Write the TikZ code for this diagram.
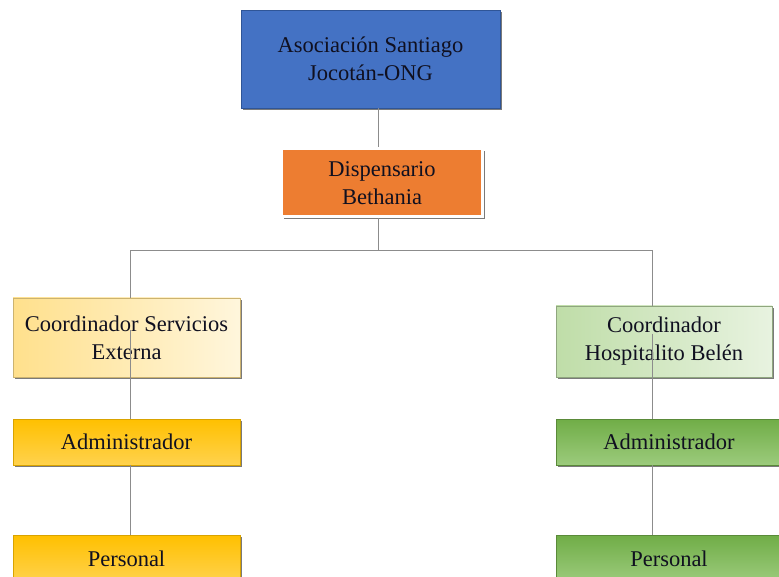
\documentclass[tikz,border=0pt]{standalone}
\usepackage{fontspec}
\setmainfont{Liberation Serif}
\usetikzlibrary{backgrounds}
\definecolor{blu}{HTML}{4472C4}
\definecolor{blud}{HTML}{2F5597}
\definecolor{org}{HTML}{ED7D31}
\definecolor{ylight}{HTML}{FFE08C}
\definecolor{ywhite}{HTML}{FFF6DC}
\definecolor{ygold}{HTML}{FFC000}
\definecolor{ygoldl}{HTML}{FFD24D}
\definecolor{glight}{HTML}{BFDDA8}
\definecolor{gwhite}{HTML}{E8F3E0}
\definecolor{ggreen}{HTML}{70AD47}
\definecolor{ggreenl}{HTML}{9CCB7C}
\definecolor{txt}{HTML}{101020}
\definecolor{conn}{HTML}{8C8C8C}
\definecolor{shad}{HTML}{7A7A7A}
\tikzset{
  box/.style={rectangle, inner sep=0pt, align=center, text=txt,
    font=\fontsize{22.5}{28}\selectfont,
    preaction={fill=shad, transform canvas={shift={(2.2pt,-2.2pt)}}}},
  conline/.style={draw=conn, line width=0.9pt},
}
\begin{document}
\begin{tikzpicture}[x=1pt,y=1pt]
\useasboundingbox (0,0) rectangle (779,-577);
\fill[white] (0,0) rectangle (779,-577);
\coordinate (bus) at (378,-250);
\node[box, minimum width=259pt, minimum height=98pt, fill=blu, draw=blud, line width=0.6pt] (top) at (370.5,-59) {Asociación Santiago\\Jocotán-ONG};
\node[box, minimum width=201pt, minimum height=68pt, fill=org, draw=white, line width=3pt] (disp) at (382,-183) {Dispensario\\Bethania};
\draw[conline] ([xshift=7.5pt]top.south) -- ([xshift=-4pt]disp.north);
\node[box, minimum width=227pt, minimum height=79pt, left color=ylight, right color=ywhite, draw=ylight!80!black, line width=0.4pt] (lc) at (126.5,-337.5) {Coordinador Servicios\\Externa};
\node[box, minimum width=227pt, minimum height=46pt, top color=ygold, bottom color=ygoldl, draw=ygold!85!black, line width=0.4pt] (la) at (126.5,-442) {Administrador};
\node[box, minimum width=227pt, minimum height=47pt, top color=ygold, bottom color=ygoldl, draw=ygold!85!black, line width=0.4pt] (lp) at (126.5,-558.5) {Personal};
\node[box, minimum width=216pt, minimum height=71pt, left color=glight, right color=gwhite, draw=glight!75!black, line width=0.4pt] (rc) at (664,-341.5) {Coordinador\\Hospitalito Belén};
\node[box, minimum width=226pt, minimum height=46pt, top color=ggreen, bottom color=ggreenl, draw=ggreen!80!black, line width=0.4pt] (ra) at (669,-442) {Administrador};
\node[box, minimum width=226pt, minimum height=47pt, top color=ggreen, bottom color=ggreenl, draw=ggreen!80!black, line width=0.4pt] (rp) at (669,-558.5) {Personal};
\draw[conline] ([xshift=-4pt]disp.south) -- (bus);
\draw[conline] (bus) -| ([xshift=3.5pt]lc.north);
\draw[conline] (bus) -| ([xshift=-12pt]rc.north);
\draw[conline] ([xshift=3.5pt,yshift=8pt]lc.center) -- ([xshift=3.5pt]la.north);
\draw[conline] ([xshift=3.5pt]la.south) -- ([xshift=3.5pt]lp.north);
\draw[conline] ([xshift=-12pt,yshift=8pt]rc.center) -- ([xshift=-17pt]ra.north);
\draw[conline] ([xshift=-17pt]ra.south) -- ([xshift=-17pt]rp.north);
\end{tikzpicture}
\end{document}
